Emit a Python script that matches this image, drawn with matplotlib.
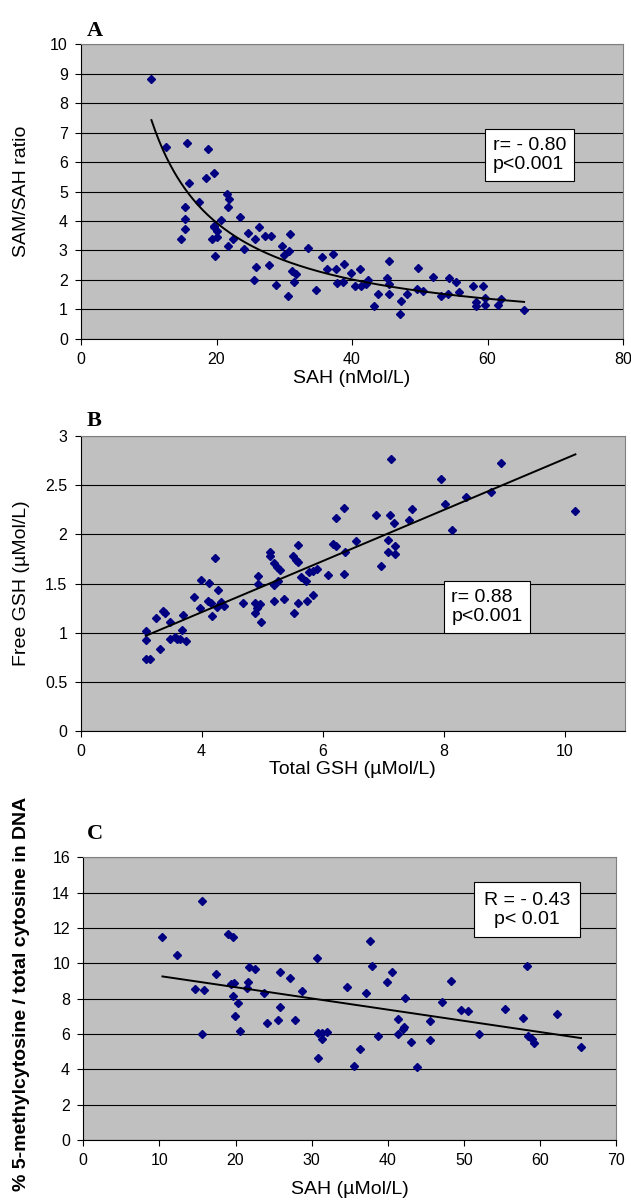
import numpy as np
import matplotlib.pyplot as plt
from matplotlib.ticker import FuncFormatter

plt.rcParams['font.family'] = ['Liberation Sans', 'DejaVu Sans']

# panel A: SAM/SAH ratio vs SAH
sah_a = [10.4, 12.5, 15.6, 18.8, 16.0, 18.5, 19.7, 15.4, 17.4, 15.4,
         15.4, 14.7, 21.5, 21.9, 21.7, 20.6, 19.7, 20.1, 20.0, 19.4,
         19.8, 21.7, 22.5, 23.5, 24.1, 24.6, 26.2, 25.7, 27.1, 28.1,
         30.8, 25.9, 25.5, 27.8, 29.6, 29.9, 30.7, 28.8, 30.5, 31.2,
         31.8, 31.4, 33.5, 34.7, 35.6, 36.3, 37.2, 37.7, 37.8, 38.8,
         38.7, 39.9, 40.4, 41.2, 41.4, 42.3, 42.0, 43.2, 43.8, 45.2,
         45.5, 45.5, 45.5, 47.1, 47.3, 48.1, 49.8, 49.6, 50.5, 52.0,
         53.2, 54.2, 54.3, 55.4, 55.8, 57.8, 59.3, 58.3, 58.3, 59.7,
         59.6, 61.5, 62.0, 65.4, 19.6]
ratio_a = [8.81, 6.52, 6.64, 6.44, 5.28, 5.47, 5.63, 4.49, 4.66, 4.07,
           3.74, 3.40, 4.93, 4.75, 4.49, 4.03, 3.83, 3.67, 3.44, 3.39,
           2.81, 3.16, 3.39, 4.15, 3.04, 3.60, 3.79, 3.37, 3.49, 3.50,
           3.56, 2.44, 2.00, 2.50, 3.14, 2.86, 2.98, 1.83, 1.44, 2.30,
           2.19, 1.91, 3.08, 1.67, 2.78, 2.36, 2.88, 2.36, 1.89, 2.53,
           1.94, 2.22, 1.80, 2.38, 1.80, 2.00, 1.86, 1.12, 1.52, 2.07,
           2.65, 1.86, 1.52, 0.84, 1.28, 1.53, 2.41, 1.69, 1.62, 2.10,
           1.44, 1.53, 2.07, 1.91, 1.60, 1.80, 1.80, 1.24, 1.11, 1.15,
           1.37, 1.16, 1.36, 0.97, 3.78]

# panel B: free GSH vs total GSH
tgsh_b = [3.08, 3.08, 3.08, 3.15, 3.24, 3.31, 3.36, 3.39, 3.48, 3.48,
          3.57, 3.65, 3.68, 3.70, 3.74, 3.87, 3.97, 3.99, 4.13, 4.10,
          4.15, 4.18, 4.22, 4.27, 4.25, 4.33, 4.38, 4.68, 4.93, 4.94,
          4.88, 4.96, 4.88, 4.92, 4.98, 5.14, 5.14, 5.20, 5.24, 5.29,
          5.20, 5.26, 5.20, 5.36, 5.52, 5.57, 5.60, 5.60, 5.64, 5.72,
          5.53, 5.60, 5.74, 5.78, 5.85, 5.85, 5.91, 6.09, 6.18, 6.23,
          6.22, 6.36, 6.38, 6.36, 6.56, 6.89, 6.97, 7.08, 7.08, 7.12,
          7.14, 7.19, 7.20, 7.20, 7.43, 7.48, 7.96, 8.02, 8.14, 8.38,
          8.79, 8.95, 10.18, 3.59]
fgsh_b = [1.02, 0.93, 0.73, 0.73, 1.15, 0.83, 1.22, 1.20, 1.11, 0.94,
          0.96, 0.94, 1.03, 1.18, 0.92, 1.36, 1.25, 1.54, 1.51, 1.32,
          1.30, 1.17, 1.76, 1.43, 1.26, 1.31, 1.27, 1.30, 1.58, 1.49,
          1.30, 1.29, 1.20, 1.25, 1.11, 1.82, 1.78, 1.71, 1.67, 1.64,
          1.48, 1.53, 1.32, 1.34, 1.78, 1.74, 1.89, 1.72, 1.57, 1.53,
          1.20, 1.30, 1.32, 1.62, 1.63, 1.38, 1.65, 1.59, 1.90, 1.88,
          2.17, 2.27, 1.82, 1.60, 1.93, 2.20, 1.68, 1.94, 1.82, 2.20,
          2.77, 2.12, 1.88, 1.80, 2.15, 2.26, 2.56, 2.31, 2.04, 2.38,
          2.43, 2.73, 2.24, 0.94]

# panel C: % 5-methylcytosine vs SAH
sah_c = [10.4, 12.3, 15.6, 14.7, 15.8, 15.6, 17.5, 19.0, 19.7, 19.4,
         19.8, 19.7, 20.3, 19.9, 20.6, 21.5, 21.7, 21.8, 22.6, 23.7,
         24.1, 25.6, 25.8, 25.9, 27.1, 27.8, 28.7, 30.7, 30.8, 30.8,
         31.4, 31.4, 32.0, 34.7, 35.6, 36.3, 37.1, 37.7, 37.9, 38.7,
         39.9, 40.5, 41.4, 41.4, 42.0, 42.2, 42.3, 43.1, 43.9, 45.6,
         45.6, 47.1, 48.3, 49.6, 50.5, 52.0, 55.4, 57.8, 58.3, 58.5,
         58.9, 59.2, 62.2, 65.4]
mc_c = [11.51, 10.49, 13.55, 8.57, 8.47, 5.98, 9.40, 11.68, 11.47, 8.81,
        8.91, 8.15, 7.74, 7.02, 6.19, 8.58, 8.96, 9.77, 9.66, 8.30,
        6.62, 6.77, 7.55, 9.53, 9.17, 6.77, 8.43, 10.30, 4.64, 6.04,
        6.04, 5.72, 6.09, 8.64, 4.19, 5.15, 8.34, 11.25, 9.85, 5.89,
        8.96, 9.53, 6.87, 5.98, 6.28, 6.42, 8.04, 5.53, 4.13, 6.74,
        5.66, 7.83, 9.02, 7.36, 7.30, 5.98, 7.43, 6.91, 9.83, 5.91,
        5.74, 5.51, 7.15, 5.28]

W, H = 631, 1201
fig = plt.figure(figsize=(W / 100, H / 100), dpi=100)


def rect(left, top, right, bottom):
    return [left / W, 1 - bottom / H, (right - left) / W, (bottom - top) / H]


def style(ax):
    ax.set_facecolor('#c0c0c0')
    ax.yaxis.grid(True, color='black', lw=0.8)
    ax.set_axisbelow(True)
    for s in ['top', 'right']:
        ax.spines[s].set_color('#808080')
    for s in ['left', 'bottom']:
        ax.spines[s].set_color('black')
    ax.tick_params(direction='out', length=4.5, width=0.8, labelsize=11.5, pad=5)
    ax.yaxis.set_major_formatter(FuncFormatter(lambda v, p: '%g' % v))


def box(ax, x, y, txt, pad, ha='left'):
    ax.text(x, y, txt, transform=ax.transAxes, fontsize=14, ha=ha, va='center',
            multialignment=ha, linespacing=1.15,
            bbox=dict(boxstyle='square,pad=%s' % pad, fc='white', ec='black', lw=0.8))


mk = dict(ls='none', marker='D', ms=4.5, color='#000080')

# ---- A
ax1 = fig.add_axes(rect(81, 44.3, 623, 338.7))
style(ax1)
xa = np.array(sah_a)
ya = np.array(ratio_a)
ax1.plot(xa, ya, **mk)
b, lna = np.polyfit(np.log(xa), np.log(ya), 1)
xs = np.linspace(xa.min(), xa.max(), 200)
ax1.plot(xs, np.exp(lna) * xs ** b, color='black', lw=1.4)
ax1.set_xlim(0, 80)
ax1.set_ylim(0, 10)
ax1.set_xticks(range(0, 81, 20))
ax1.set_yticks(range(0, 11))
ax1.set_xlabel('SAH (nMol/L)', fontsize=14, va='center')
ax1.xaxis.set_label_coords(0.5, -(378 - 338.7) / (338.7 - 44.3))
ax1.set_ylabel('SAM/SAH ratio', fontsize=14, va='center')
ax1.yaxis.set_label_coords((22 - 81) / (623 - 81), 0.5)
box(ax1, 0.76, 0.624, 'r= - 0.80\np<0.001', 0.4)
fig.text(87 / W, 1 - 31 / H, 'A', fontsize=16, fontweight='bold',
         family='Liberation Serif', ha='left', va='center')

# ---- B
ax2 = fig.add_axes(rect(80.5, 436, 625, 731))
style(ax2)
xb = np.array(tgsh_b)
yb = np.array(fgsh_b)
ax2.plot(xb, yb, **mk)
m, c = np.polyfit(xb, yb, 1)
xs = np.array([xb.min(), xb.max()])
ax2.plot(xs, m * xs + c, color='black', lw=1.4)
ax2.set_xlim(2, 11)
ax2.set_ylim(0, 3)
ax2.set_xticks([2, 4, 6, 8, 10])
ax2.set_xticklabels(['0', '4', '6', '8', '10'])
ax2.set_yticks(np.arange(0, 3.01, 0.5))
ax2.set_xlabel('Total GSH (µMol/L)', fontsize=14, va='center')
ax2.xaxis.set_label_coords(0.5, -(769 - 731) / (731 - 436))
ax2.set_ylabel('Free GSH (µMol/L)', fontsize=14, va='center')
ax2.yaxis.set_label_coords((22 - 80.5) / (625 - 80.5), 0.5)
box(ax2, 0.681, 0.42, 'r= 0.88\np<0.001', 0.4)
fig.text(87 / W, 1 - 421 / H, 'B', fontsize=16, fontweight='bold',
         family='Liberation Serif', ha='left', va='center')

# ---- C
ax3 = fig.add_axes(rect(83.3, 857.3, 616, 1140))
style(ax3)
xc = np.array(sah_c)
yc = np.array(mc_c)
ax3.plot(xc, yc, **mk)
m, c = np.polyfit(xc, yc, 1)
xs = np.array([xc.min(), xc.max()])
ax3.plot(xs, m * xs + c, color='black', lw=1.4)
ax3.set_xlim(0, 70)
ax3.set_ylim(0, 16)
ax3.set_xticks(range(0, 71, 10))
ax3.set_yticks(range(0, 17, 2))
ax3.set_xlabel('SAH (µMol/L)', fontsize=14, va='center')
ax3.xaxis.set_label_coords(0.5, -(1190 - 1140) / (1140 - 857.3))
ax3.set_ylabel('% 5-methylcytosine / total cytosine in DNA', fontsize=14,
               fontweight='bold', va='center')
ax3.yaxis.set_label_coords((22 - 83.3) / (616 - 83.3), (1140 - 993.5) / (1140 - 857.3))
box(ax3, 0.833, 0.815, 'R = - 0.43\np< 0.01', 0.5, ha='center')
fig.text(87 / W, 1 - 834 / H, 'C', fontsize=16, fontweight='bold',
         family='Liberation Serif', ha='left', va='center')

fig.savefig('out.png', dpi=100)
